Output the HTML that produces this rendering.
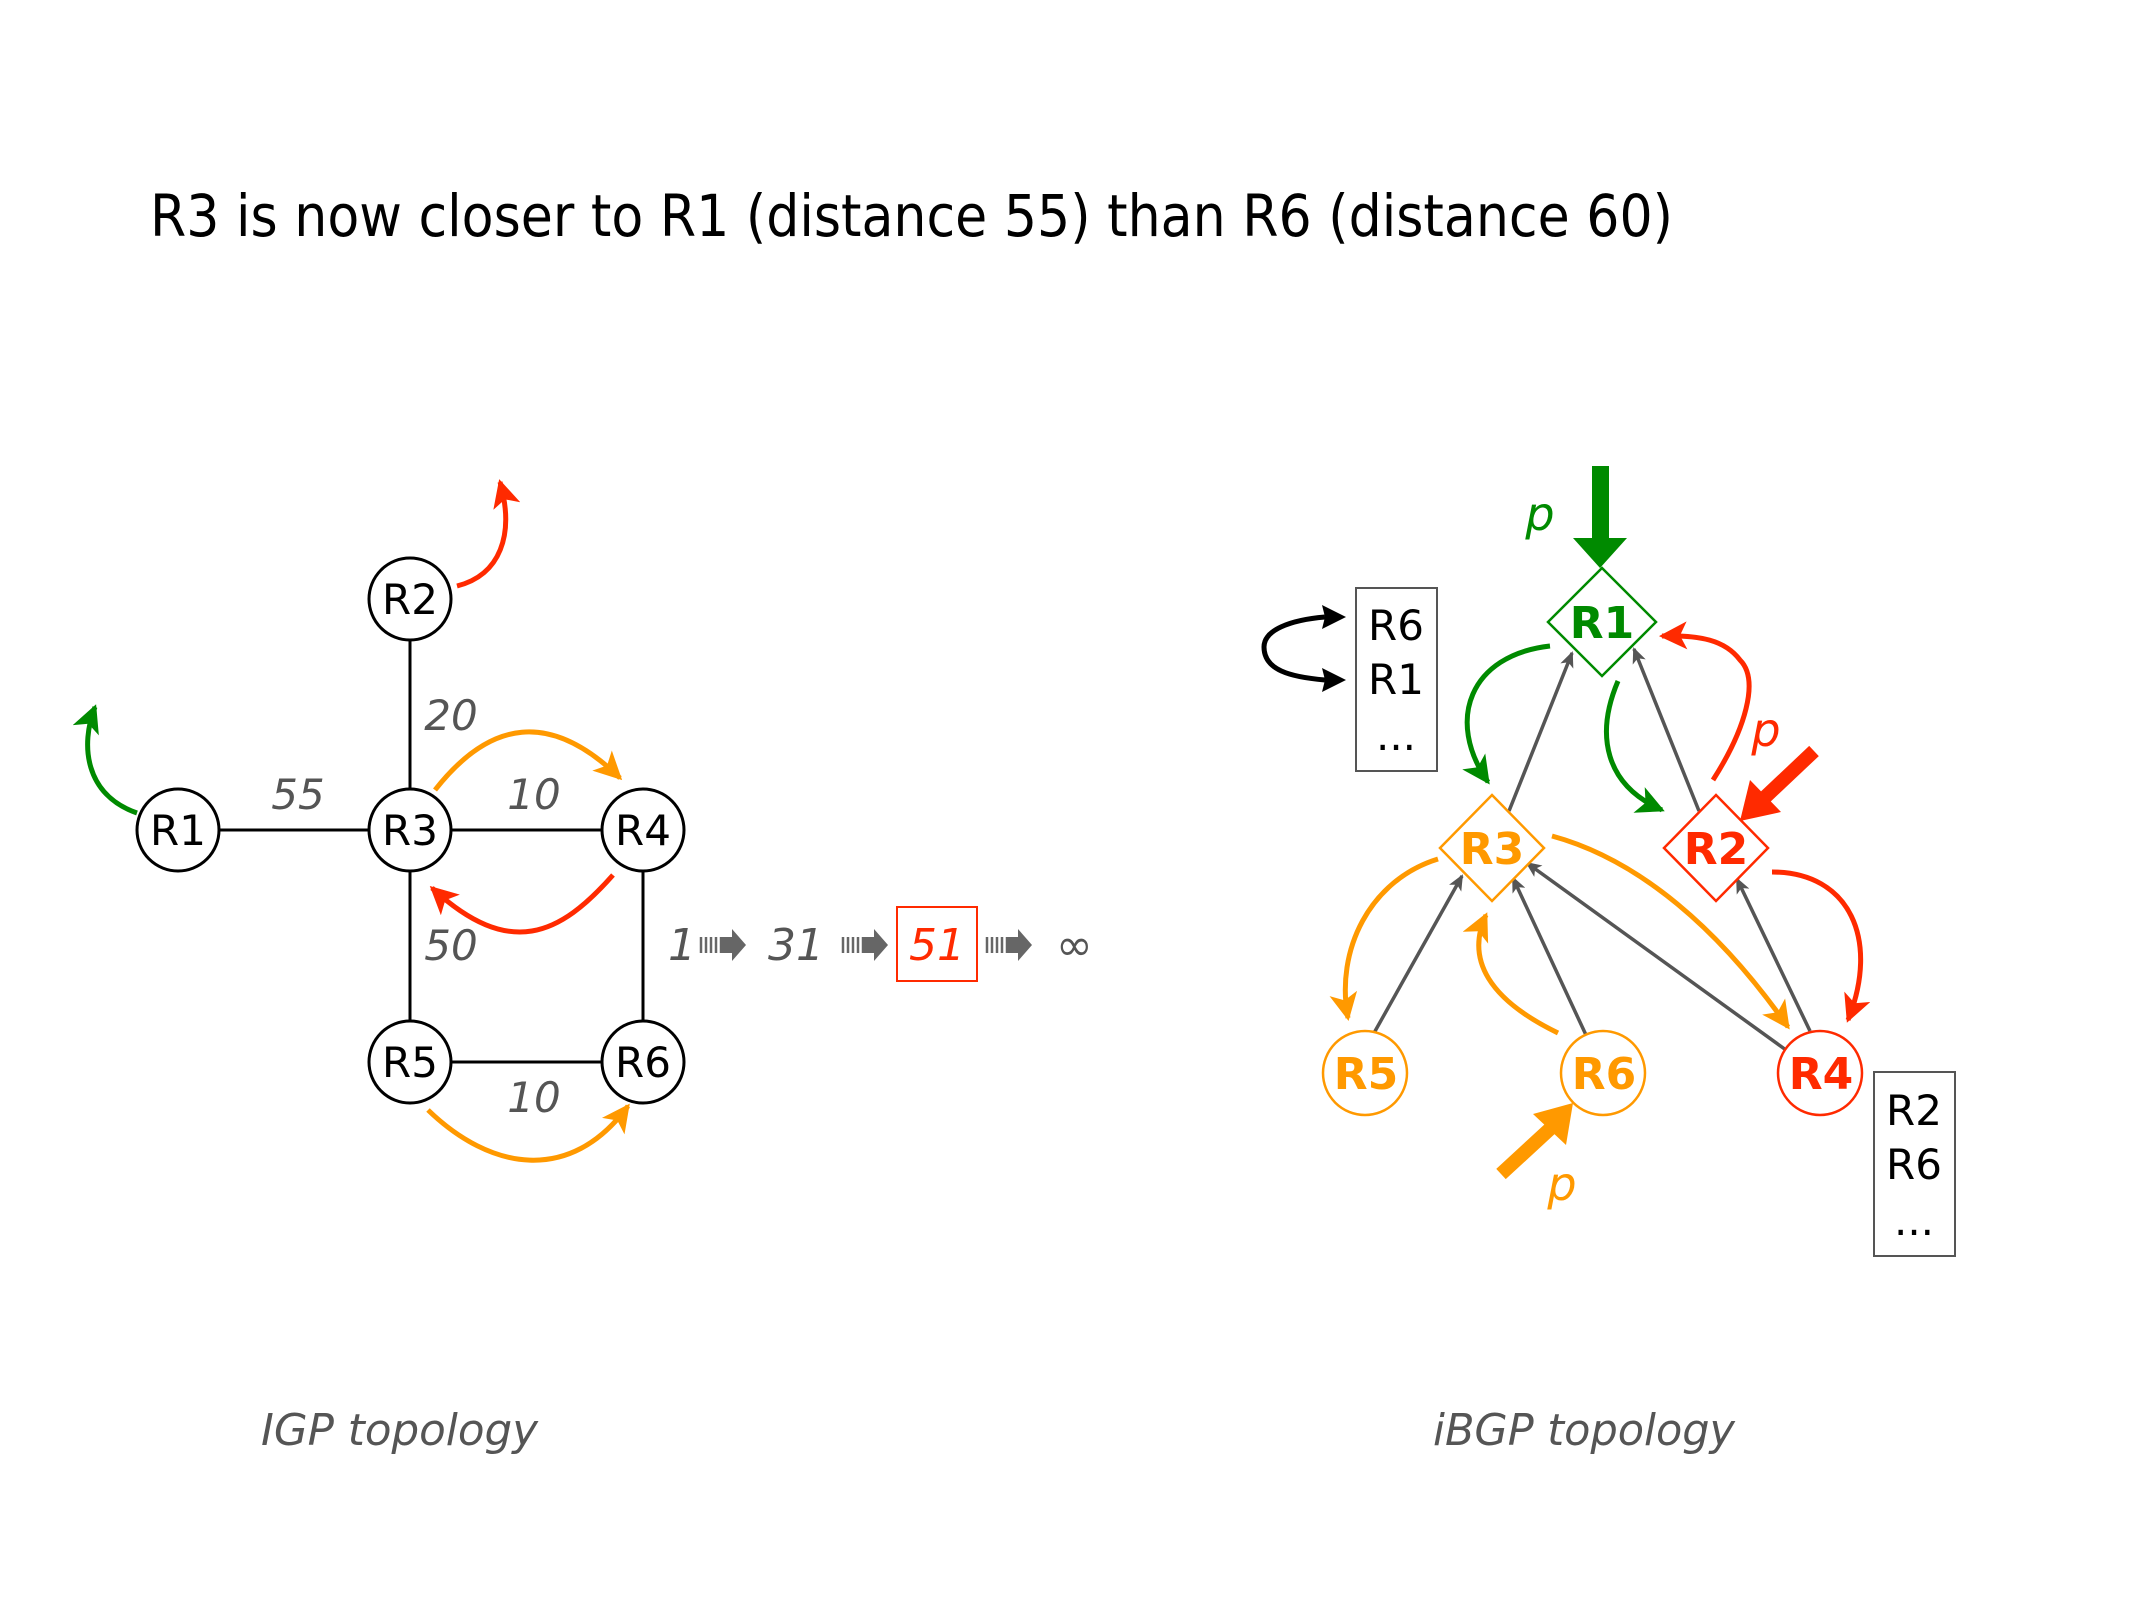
<!DOCTYPE html>
<html><head><meta charset="utf-8"><style>
html,body{margin:0;padding:0;background:#fff}
svg{display:block}
text{font-family:"DejaVu Sans","Liberation Sans",sans-serif}
</style></head><body>
<svg width="2134" height="1600" viewBox="0 0 2134 1600" xmlns="http://www.w3.org/2000/svg">
<defs>
<marker id="mr" markerUnits="userSpaceOnUse" markerWidth="34" markerHeight="34" refX="25" refY="14" orient="auto"><path d="M0,0 L28,14 L0,28 L7,14 z" fill="#ff2a00"/></marker>
<marker id="mg" markerUnits="userSpaceOnUse" markerWidth="34" markerHeight="34" refX="25" refY="14" orient="auto"><path d="M0,0 L28,14 L0,28 L7,14 z" fill="#008a00"/></marker>
<marker id="mo" markerUnits="userSpaceOnUse" markerWidth="34" markerHeight="34" refX="25" refY="14" orient="auto"><path d="M0,0 L28,14 L0,28 L7,14 z" fill="#ff9900"/></marker>
<marker id="ms" markerUnits="userSpaceOnUse" markerWidth="20" markerHeight="20" refX="14" refY="7" orient="auto"><path d="M0,0 L16,7 L0,14 L4,7 z" fill="#555"/></marker>
<g id="sa"><g stroke="#666" stroke-width="2.5"><line x1="1" y1="-8" x2="1" y2="8"/><line x1="6" y1="-8" x2="6" y2="8"/><line x1="11" y1="-8" x2="11" y2="8"/><line x1="16" y1="-8" x2="16" y2="8"/><line x1="21" y1="-8" x2="21" y2="8"/></g><path d="M22,-8 L32,-8 L32,-16 L46,0 L32,16 L32,8 L22,8 z" fill="#666"/></g>
</defs>

<text x="150" y="236" font-size="58" textLength="1523" lengthAdjust="spacingAndGlyphs">R3 is now closer to R1 (distance 55) than R6 (distance 60)</text>

<!-- IGP -->
<g stroke="#000" stroke-width="3">
<line x1="178" y1="830" x2="643" y2="830"/>
<line x1="410" y1="599" x2="410" y2="1062"/>
<line x1="410" y1="1062" x2="643" y2="1062"/>
<line x1="643" y1="830" x2="643" y2="1062"/>
</g>
<g fill="#fff" stroke="#000" stroke-width="3">
<circle cx="178" cy="830" r="41"/><circle cx="410" cy="599" r="41"/><circle cx="410" cy="830" r="41"/>
<circle cx="643" cy="830" r="41"/><circle cx="410" cy="1062" r="41"/><circle cx="643" cy="1062" r="41"/>
</g>
<g font-family="Liberation Sans, sans-serif" font-size="42" text-anchor="middle" fill="#000">
<text x="178" y="845">R1</text><text x="410" y="614">R2</text><text x="410" y="845">R3</text>
<text x="643" y="845">R4</text><text x="410" y="1077">R5</text><text x="643" y="1077">R6</text>
</g>
<g font-size="42" font-style="italic" fill="#555" text-anchor="middle">
<text x="298" y="809">55</text><text x="451" y="730">20</text><text x="534" y="809">10</text>
<text x="451" y="960">50</text><text x="534" y="1112">10</text>
</g>
<g fill="none" stroke-width="5">
<path d="M457,586 C500,575 515,535 500,482" stroke="#ff2a00" marker-end="url(#mr)"/>
<path d="M137,813 C85,795 80,745 95,707" stroke="#008a00" marker-end="url(#mg)"/>
<path d="M435,790 C490,720 550,710 620,778" stroke="#ff9900" marker-end="url(#mo)"/>
<path d="M613,875 C560,935 510,960 432,888" stroke="#ff2a00" marker-end="url(#mr)"/>
<path d="M428,1110 C490,1170 570,1185 628,1106" stroke="#ff9900" marker-end="url(#mo)"/>
</g>

<!-- sequence -->
<g font-size="44" font-style="italic" fill="#555">
<text x="668" y="960">1</text><text x="768" y="960">31</text><text x="1056" y="960" font-style="normal">∞</text>
</g>
<use href="#sa" x="700" y="945"/><use href="#sa" x="842" y="945"/><use href="#sa" x="986" y="945"/>
<rect x="897" y="907" width="80" height="74" fill="none" stroke="#ff2a00" stroke-width="2"/>
<text x="937" y="960" font-size="44" font-style="italic" fill="#ff2a00" text-anchor="middle">51</text>

<!-- iBGP gray -->
<g stroke="#555" stroke-width="3.5" fill="none" marker-end="url(#ms)">
<line x1="1509" y1="811" x2="1572" y2="653"/>
<line x1="1699" y1="811" x2="1634" y2="649"/>
<line x1="1374" y1="1033" x2="1462" y2="876"/>
<line x1="1586" y1="1035" x2="1513" y2="878"/>
<line x1="1786" y1="1050" x2="1527" y2="863"/>
<line x1="1810" y1="1031" x2="1737" y2="879"/>
</g>
<!-- nodes -->
<path d="M1602,568 L1656,622 L1602,676 L1548,622 z" fill="#fff" stroke="#008a00" stroke-width="2.5"/>
<path d="M1492,795 L1544,848 L1492,901 L1440,848 z" fill="#fff" stroke="#ff9900" stroke-width="2.5"/>
<path d="M1716,795 L1768,848 L1716,901 L1664,848 z" fill="#fff" stroke="#ff2a00" stroke-width="2.5"/>
<circle cx="1365" cy="1073" r="42" fill="#fff" stroke="#ff9900" stroke-width="2.5"/>
<circle cx="1603" cy="1073" r="42" fill="#fff" stroke="#ff9900" stroke-width="2.5"/>
<circle cx="1820" cy="1073" r="42" fill="#fff" stroke="#ff2a00" stroke-width="2.5"/>
<g font-size="44" font-weight="bold" text-anchor="middle">
<text x="1602" y="638" fill="#008a00">R1</text>
<text x="1492" y="864" fill="#ff9900">R3</text>
<text x="1716" y="864" fill="#ff2a00">R2</text>
<text x="1366" y="1089" fill="#ff9900">R5</text>
<text x="1604" y="1089" fill="#ff9900">R6</text>
<text x="1821" y="1089" fill="#ff2a00">R4</text>
</g>
<!-- colored arrows -->
<g fill="none" stroke-width="5">
<path d="M1550,646 C1470,655 1445,720 1488,782" stroke="#008a00" marker-end="url(#mg)"/>
<path d="M1618,681 C1595,735 1605,785 1662,810" stroke="#008a00" marker-end="url(#mg)"/>
<path d="M1713,780 C1745,730 1760,680 1740,660 C1725,640 1700,635 1662,636" stroke="#ff2a00" marker-end="url(#mr)"/>
<path d="M1772,872 C1850,872 1880,940 1848,1020" stroke="#ff2a00" marker-end="url(#mr)"/>
<path d="M1438,859 C1370,880 1335,950 1348,1018" stroke="#ff9900" marker-end="url(#mo)"/>
<path d="M1558,1033 C1490,1000 1465,960 1486,915" stroke="#ff9900" marker-end="url(#mo)"/>
<path d="M1552,836 C1640,860 1720,930 1788,1027" stroke="#ff9900" marker-end="url(#mo)"/>
<path d="M1325,680 C1290,677 1264,670 1264,647 C1264,630 1290,620 1325,617" stroke="#000"/>
</g>
<path d="M1346,617 L1322,605 L1325,617 L1322,629 z" fill="#000"/>
<path d="M1346,680 L1322,668 L1325,680 L1322,692 z" fill="#000"/>
<!-- big arrows -->
<path d="M1592,466 L1609,466 L1609,538 L1627,538 L1600,568 L1573,538 L1592,538 z" fill="#008a00"/>
<line x1="1814" y1="751" x2="1760" y2="802" stroke="#ff2a00" stroke-width="14"/>
<path d="M1740,821 L1750,780 L1781,812 z" fill="#ff2a00"/>
<line x1="1501" y1="1174" x2="1552" y2="1127" stroke="#ff9900" stroke-width="14"/>
<path d="M1573,1103 L1566,1145 L1533,1114 z" fill="#ff9900"/>
<g font-size="46" font-style="italic" text-anchor="middle">
<text x="1540" y="530" fill="#008a00">p</text>
<text x="1766" y="746" fill="#ff2a00">p</text>
<text x="1562" y="1200" fill="#ff9900">p</text>
</g>
<!-- boxes -->
<rect x="1356" y="588" width="81" height="183" fill="#fff" stroke="#555" stroke-width="2"/>
<g font-family="Liberation Sans, sans-serif" font-size="42" fill="#000" text-anchor="middle">
<text x="1396" y="640">R6</text><text x="1396" y="694">R1</text><text x="1396" y="750">...</text>
</g>
<rect x="1874" y="1072" width="81" height="184" fill="#fff" stroke="#555" stroke-width="2"/>
<g font-family="Liberation Sans, sans-serif" font-size="42" fill="#000" text-anchor="middle">
<text x="1914" y="1125">R2</text><text x="1914" y="1179">R6</text><text x="1914" y="1235">...</text>
</g>

<g font-size="44" font-style="italic" fill="#555">
<text x="261" y="1445" textLength="277" lengthAdjust="spacingAndGlyphs">IGP topology</text>
<text x="1433" y="1445" textLength="302" lengthAdjust="spacingAndGlyphs">iBGP topology</text>
</g>
</svg>
</body></html>
